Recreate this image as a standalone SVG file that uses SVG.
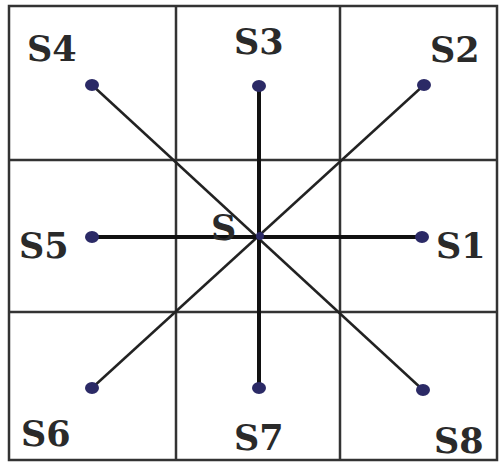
<svg xmlns="http://www.w3.org/2000/svg" width="503" height="462" viewBox="0 0 503 462">
<style>
.grid{stroke:#333;stroke-width:2.5;fill:none}
.thick{stroke:#111;stroke-width:4;fill:none}
.thin{stroke:#222;stroke-width:2.5;fill:none}
.dot{fill:#2b2a66}
text{font-family:"DejaVu Serif","Liberation Serif",serif;font-weight:bold;font-size:35px;fill:#2a2a2a}
</style>
<rect width="503" height="462" fill="#fff"/>
<g id="grid">
<rect class="grid" x="9" y="6" width="488" height="454"/>
<line class="grid" x1="176" y1="6" x2="176" y2="460"/>
<line class="grid" x1="340" y1="6" x2="340" y2="460"/>
<line class="grid" x1="9" y1="160" x2="497" y2="160"/>
<line class="grid" x1="9" y1="312" x2="497" y2="312"/>
</g>
<g id="connectors">
<line class="thin" x1="92" y1="85" x2="423" y2="390"/>
<line class="thin" x1="424" y1="85" x2="92" y2="388"/>
<line class="thick" x1="259" y1="86" x2="259" y2="388"/>
<line class="thick" x1="92" y1="237" x2="422" y2="237"/>
</g>
<g id="S"><circle class="dot" cx="260" cy="236" r="4"/><text x="211" y="240">S</text></g>
<g id="S1"><ellipse class="dot" cx="422" cy="237" rx="7" ry="6"/><text x="436" y="258">S1</text></g>
<g id="S2"><ellipse class="dot" cx="424" cy="85" rx="7" ry="6"/><text x="430" y="62">S2</text></g>
<g id="S3"><ellipse class="dot" cx="259" cy="86" rx="7" ry="6"/><text x="234" y="54">S3</text></g>
<g id="S4"><ellipse class="dot" cx="92" cy="85" rx="7" ry="6"/><text x="27" y="61">S4</text></g>
<g id="S5"><ellipse class="dot" cx="92" cy="237" rx="7" ry="6"/><text x="19" y="258">S5</text></g>
<g id="S6"><ellipse class="dot" cx="92" cy="388" rx="7" ry="6"/><text x="21" y="446">S6</text></g>
<g id="S7"><ellipse class="dot" cx="259" cy="388" rx="7" ry="6"/><text x="234" y="450">S7</text></g>
<g id="S8"><ellipse class="dot" cx="423" cy="390" rx="7" ry="6"/><text x="434" y="453">S8</text></g>
</svg>
